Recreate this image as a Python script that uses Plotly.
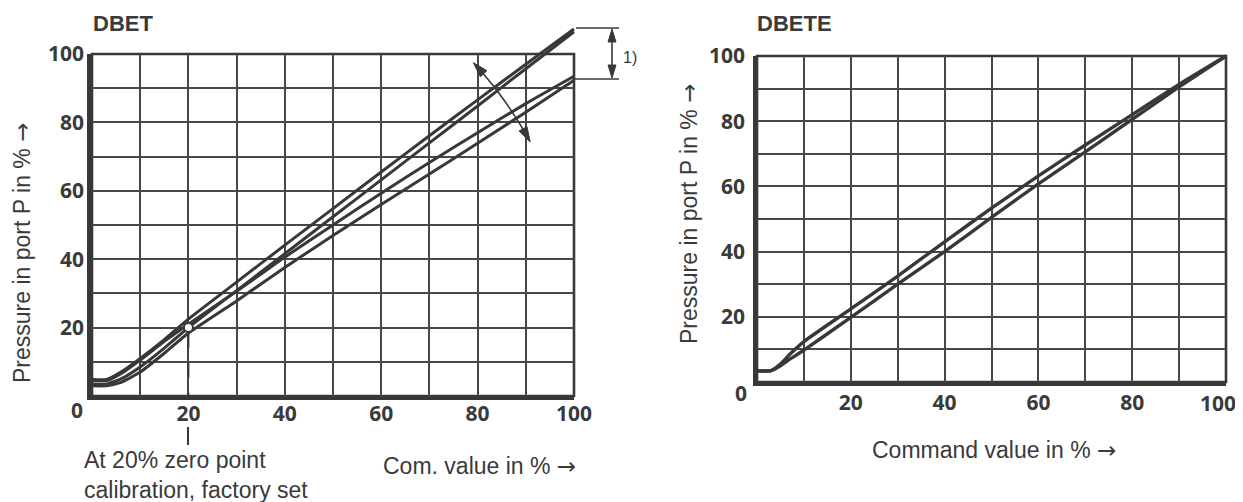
import math
import plotly.graph_objects as go

# The page body has an 8px margin, so the figure appears shifted by (8, 8).
OFF = 8
W, H = 1243, 502

# ---------------- data ----------------
dbet_x = [0, 3, 6, 10, 15, 20, 30, 40, 50, 60, 70, 80, 90, 100]
dbet_max_rise = [4.8, 4.8, 7, 11, 16.5, 22.5, 33.3, 44.1, 54.8, 65.5, 76.1, 86.6, 97, 107.3]
dbet_max_fall = [3.5, 3.5, 5, 8.5, 14, 20, 30.8, 41.6, 52.4, 63.2, 74, 84.8, 95.7, 106.5]
dbet_min_rise = [4.5, 4.5, 6.5, 10.5, 16, 21, 30.6, 40.6, 50, 59.3, 68.3, 77, 85.5, 93.5]
dbet_min_fall = [3, 3, 4, 7, 12.5, 18.4, 27.8, 37.6, 46.9, 56, 64.9, 73.9, 83, 92.3]

dbete_x = [0, 3, 5, 7, 10, 20, 30, 40, 50, 60, 70, 80, 90, 100]
dbete_rise = [3.4, 3.5, 5.5, 8.5, 12.4, 22.4, 32.5, 43, 53.3, 63.2, 72.7, 82, 91.3, 100]
dbete_fall = [3.4, 3.5, 5, 7, 9.8, 19.8, 30, 40, 50.5, 60.8, 70.6, 80.6, 90.5, 100]

calib_x = [20]
calib_y = [20]

grid_vals = [0, 10, 20, 30, 40, 50, 60, 70, 80, 90, 100]
tick_text = ["", "", "20", "", "40", "", "60", "", "80", "", "100"]
# the last label of the right chart sits slightly inside the edge; drawn separately
tick_text_right = ["", "", "20", "", "40", "", "60", "", "80", "", ""]

# ---------------- helpers ----------------
def fx(px):
    return (px - OFF) / W


def fy(py):
    return 1 - (py - OFF) / H


TXT = "#3a3a3a"
LINE = "#383838"
GRID = "#474747"
SANS = "Liberation Sans, Arial, sans-serif"
TICK = dict(family="Open Sans, sans-serif", size=21, color=TXT, weight="bold")
TSIZE = 23
ARROW = '<span style="font-family:DejaVu Sans">→</span>'

# plot areas in reference pixels
L_X0, L_X1, L_Y0, L_Y1 = 92, 574, 396, 54
R_X0, R_X1, R_Y0, R_Y1 = 757, 1226, 382, 56


def grid_axis(**kw):
    d = dict(tickmode="array", tickvals=grid_vals, ticktext=tick_text,
             showgrid=True, gridcolor=GRID, gridwidth=1.6, zeroline=False,
             showline=True, linecolor=LINE, ticks="", tickfont=TICK,
             fixedrange=True, range=[0, 100], automargin=False)
    d.update(kw)
    return d


def overlay_axes(x0, x1, y0, y1, ext_r, ext_t):
    wx = x1 - x0
    hy = y0 - y1
    xa = dict(domain=[fx(x0), fx(x1 + ext_r)], range=[0, 100 * (wx + ext_r) / wx],
              visible=False, fixedrange=True, automargin=False)
    ya = dict(domain=[fy(y0), fy(y1 - ext_t)], range=[0, 100 * (hy + ext_t) / hy],
              visible=False, fixedrange=True, automargin=False)
    return xa, ya


fig = go.Figure()

# register the two grid subplots
fig.add_trace(go.Scatter(x=[calib_x[0], calib_x[0]], y=[calib_y[0] - 1.5, 0], mode="lines",
                         line=dict(color=LINE, width=2, dash="longdash"),
                         xaxis="x", yaxis="y", showlegend=False, hoverinfo="skip"))
fig.add_trace(go.Scatter(x=[], y=[], mode="lines", xaxis="x2", yaxis="y2",
                         showlegend=False, hoverinfo="skip"))

curve_style = dict(color=LINE, width=3, shape="spline", smoothing=0.5)

for ys in (dbet_max_rise, dbet_max_fall, dbet_min_rise, dbet_min_fall):
    fig.add_trace(go.Scatter(x=dbet_x, y=ys, mode="lines", line=curve_style,
                             xaxis="x3", yaxis="y3", showlegend=False, hoverinfo="skip"))

for ys in (dbete_rise, dbete_fall):
    fig.add_trace(go.Scatter(x=dbete_x, y=ys, mode="lines",
                             line=dict(color=LINE, width=3.4, shape="spline", smoothing=0.5),
                             xaxis="x4", yaxis="y4", showlegend=False, hoverinfo="skip"))

fig.add_trace(go.Scatter(x=calib_x, y=calib_y, mode="markers",
                         marker=dict(size=9, color="white", line=dict(color=LINE, width=2)),
                         xaxis="x3", yaxis="y3", showlegend=False, hoverinfo="skip"))

x3, y3 = overlay_axes(L_X0, L_X1, L_Y0, L_Y1, 6, 40)
x4, y4 = overlay_axes(R_X0, R_X1, R_Y0, R_Y1, 6, 6)
x3["anchor"] = "y3"
y3["anchor"] = "x3"
x4["anchor"] = "y4"
y4["anchor"] = "x4"

shapes = []
# thinner frame on top/right
for xr, yr in (("x domain", "y domain"), ("x2 domain", "y2 domain")):
    shapes.append(dict(type="rect", xref=xr, yref=yr, x0=0, x1=1, y0=0, y1=1,
                       line=dict(color=LINE, width=2.6), layer="below"))


def tri(tx, ty, dx, dy, length, halfw):
    bx, by = tx - length * dx, ty - length * dy
    p1 = (bx - halfw * dy, by + halfw * dx)
    p2 = (bx + halfw * dy, by - halfw * dx)
    return dict(type="path", xref="paper", yref="paper",
                path=f"M {fx(tx)},{fy(ty)} L {fx(p1[0])},{fy(p1[1])} L {fx(p2[0])},{fy(p2[1])} Z",
                fillcolor=LINE, line=dict(color=LINE, width=1), layer="above")


# rotation arc around the calibration point
cx, cy, r = 188, 327, 389
pts = []
a = 40.6
while a >= 30.6 - 1e-9:
    rad = math.radians(a)
    pts.append((cx + r * math.cos(rad), cy - r * math.sin(rad)))
    a -= 0.5
path = "M " + " L ".join(f"{fx(p[0])},{fy(p[1])}" for p in pts)
shapes.append(dict(type="path", xref="paper", yref="paper", path=path,
                   line=dict(color=LINE, width=1.6), layer="above"))
at = math.radians(42.8)
shapes.append(tri(cx + r * math.cos(at), cy - r * math.sin(at), -math.sin(at), -math.cos(at), 15, 4.5))
ab = math.radians(28.4)
shapes.append(tri(cx + r * math.cos(ab), cy - r * math.sin(ab), math.sin(ab), math.cos(ab), 15, 4.5))

# dimension "1)"
for (xa, ya) in ((576, 28), (574, 79)):
    shapes.append(dict(type="line", xref="paper", yref="paper", x0=fx(xa), x1=fx(619),
                       y0=fy(ya), y1=fy(ya), line=dict(color=LINE, width=1.5)))
shapes.append(dict(type="line", xref="paper", yref="paper", x0=fx(612), x1=fx(612),
                   y0=fy(38), y1=fy(69), line=dict(color=LINE, width=1.6)))
shapes.append(tri(612, 29, 0, -1, 13, 4))
shapes.append(tri(612, 78, 0, 1, 13, 4))

# small marker under the "20" tick label
shapes.append(dict(type="line", xref="paper", yref="paper", x0=fx(188), x1=fx(188),
                   y0=fy(427), y1=fy(445), line=dict(color=LINE, width=2)))


def ann(text, px, py, size, family=SANS, xanchor="left", yanchor="middle", angle=0, weight=None):
    f = dict(family=family, size=size, color=TXT)
    if weight:
        f["weight"] = weight
    return dict(text=text, x=fx(px), y=fy(py), xref="paper", yref="paper",
                xanchor=xanchor, yanchor=yanchor, showarrow=False, textangle=angle,
                font=f)


annotations = [
    ann("DBET", 91, 24, 22, weight="bold"),
    ann("DBETE", 755, 24, 22, weight="bold"),
    ann("Pressure in port P in % " + ARROW, 22, 253, TSIZE, xanchor="center", angle=-90),
    ann("Pressure in port P in % " + ARROW, 689, 214, TSIZE, xanchor="center", angle=-90),
    ann("Com. value in % " + ARROW, 381, 466, TSIZE),
    ann("Command value in % " + ARROW, 870, 450, TSIZE),
    ann("At 20% zero point", 82, 460, TSIZE),
    ann("calibration, factory set", 82, 490, TSIZE),
    ann("0", 77, 410, 21, family="Open Sans, sans-serif", xanchor="center", weight="bold"),
    ann("0", 741, 393, 21, family="Open Sans, sans-serif", xanchor="center", weight="bold"),
    ann(tick_text[-1], 1218, 403, 21, family="Open Sans, sans-serif", xanchor="center", weight="bold"),
    ann("1)", 621, 57, 16),
]

fig.update_layout(
    width=W, height=H, autosize=False,
    margin=dict(l=0, r=0, t=0, b=0, pad=0, autoexpand=False),
    paper_bgcolor="white", plot_bgcolor="rgba(0,0,0,0)",
    showlegend=False,
    xaxis=grid_axis(domain=[fx(L_X0), fx(L_X1)], anchor="y", linewidth=3.5, ticklabelstandoff=-4),
    yaxis=grid_axis(domain=[fy(L_Y0), fy(L_Y1)], anchor="x", linewidth=4.5, ticklabelstandoff=-1),
    xaxis2=grid_axis(domain=[fx(R_X0), fx(R_X1)], anchor="y2", linewidth=3.5, ticklabelstandoff=-1,
                     ticktext=tick_text_right),
    yaxis2=grid_axis(domain=[fy(R_Y0), fy(R_Y1)], anchor="x2", linewidth=3.5, ticklabelstandoff=4),
    xaxis3=x3, yaxis3=y3, xaxis4=x4, yaxis4=y4,
    shapes=shapes,
    annotations=annotations,
)

fig.write_html("out.html")
